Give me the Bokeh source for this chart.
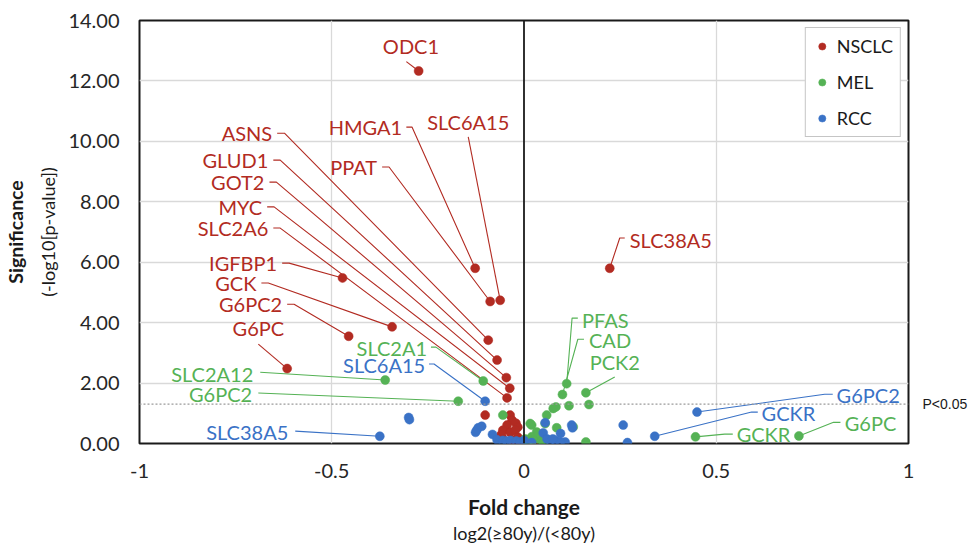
from bokeh.plotting import figure
from bokeh.models import (Range1d, LinearAxis, FixedTicker, NumeralTickFormatter,
                          CustomJSTickFormatter, Span, Legend, LegendItem, ColumnDataSource)
from bokeh.core.properties import value
from bokeh.embed import file_html
from bokeh.resources import INLINE

# ---------------- data ----------------
groups = ["NSCLC", "MEL", "RCC"]

nsclc_gene = ["ODC1", "HMGA1", "PPAT", "SLC6A15", "SLC38A5", "IGFBP1", "GCK", "G6PC2", "G6PC",
              "ASNS", "GLUD1", "GOT2", "MYC", "SLC2A6"] + [""] * 15
nsclc_fc = [-0.274, -0.127, -0.088, -0.062, 0.223, -0.472, -0.343, -0.456, -0.616,
            -0.093, -0.070, -0.046, -0.037, -0.044,
            -0.101, -0.036, -0.031, -0.044, -0.021, -0.016, -0.055, -0.036, -0.023,
            -0.016, -0.057, -0.031, 0.024, -0.010, -0.060]
nsclc_sig = [12.33, 5.80, 4.70, 4.74, 5.80, 5.48, 3.86, 3.55, 2.48,
             3.42, 2.76, 2.18, 1.83, 1.51,
             0.94, 0.94, 0.77, 0.61, 0.67, 0.54, 0.44, 0.37, 0.44,
             0.21, 0.21, 0.11, 0.02, 0.07, 0.28]

mel_gene = ["SLC2A12", "SLC2A1", "G6PC2", "PFAS", "CAD", "PCK2", "GCKR", "G6PC"] + [""] * 22
mel_fc = [-0.361, -0.106, -0.171, 0.111, 0.100, 0.161, 0.446, 0.715,
          0.117, 0.169, 0.076, 0.083, 0.059, 0.055, 0.085, 0.128, -0.055, 0.020, 0.016,
          0.033, 0.042, 0.029, 0.020, 0.161, 0.037, 0.024, 0.045, 0.010, 0.003, 0.050]
mel_sig = [2.10, 2.07, 1.40, 1.98, 1.62, 1.68, 0.22, 0.25,
           1.25, 1.29, 1.16, 1.21, 0.94, 0.66, 0.52, 0.55, 0.94, 0.61, 0.66,
           0.38, 0.22, 0.18, 0.22, 0.05, 0.27, 0.11, 0.08, 0.05, 0.15, 0.03]

rcc_gene = ["SLC6A15", "SLC38A5", "G6PC2", "GCKR"] + [""] * 28
rcc_fc = [-0.101, -0.375, 0.450, 0.340,
          -0.300, -0.298, -0.119, -0.123, -0.110, -0.126, -0.082, 0.258, 0.269, 0.055,
          0.050, 0.095, 0.124, 0.126, 0.107, -0.070, -0.055, -0.045, -0.035, -0.020,
          -0.010, 0.000, 0.068, 0.081, 0.094, 0.060, 0.075, 0.020]
rcc_sig = [1.40, 0.24, 1.04, 0.24,
           0.86, 0.79, 0.52, 0.44, 0.57, 0.37, 0.30, 0.61, 0.03, 0.69,
           0.35, 0.33, 0.61, 0.52, 0.05, 0.12, 0.10, 0.08, 0.10, 0.08,
           0.05, 0.10, 0.10, 0.10, 0.05, 0.15, 0.15, 0.03]

threshold = 1.3
x_ticks = [-1, -0.5, 0, 0.5, 1]
y_ticks = [0, 2, 4, 6, 8, 10, 12, 14]

# ---------------- annotation layout (label anchor, leader start, elbow) ----------------
label_layout = [
    ("NSCLC", "ODC1", -0.294, 13.16, "center", -0.306, 12.64, -0.306, 12.64),
    ("NSCLC", "HMGA1", -0.317, 10.47, "right", -0.306, 10.47, -0.291, 10.47),
    ("NSCLC", "SLC6A15", -0.145, 10.64, "center", -0.145, 10.15, -0.145, 10.15),
    ("NSCLC", "PPAT", -0.382, 9.15, "right", -0.369, 9.15, -0.351, 9.15),
    ("NSCLC", "ASNS", -0.655, 10.27, "right", -0.642, 10.27, -0.623, 10.27),
    ("NSCLC", "GLUD1", -0.665, 9.38, "right", -0.652, 9.38, -0.634, 9.38),
    ("NSCLC", "GOT2", -0.675, 8.65, "right", -0.662, 8.65, -0.644, 8.65),
    ("NSCLC", "MYC", -0.681, 7.83, "right", -0.668, 7.83, -0.650, 7.83),
    ("NSCLC", "SLC2A6", -0.665, 7.13, "right", -0.652, 7.13, -0.634, 7.13),
    ("NSCLC", "IGFBP1", -0.642, 5.97, "right", -0.629, 5.97, -0.611, 5.97),
    ("NSCLC", "GCK", -0.696, 5.31, "right", -0.683, 5.31, -0.665, 5.31),
    ("NSCLC", "G6PC2", -0.629, 4.61, "right", -0.616, 4.61, -0.598, 4.61),
    ("NSCLC", "G6PC", -0.691, 3.82, "center", -0.691, 3.29, -0.691, 3.29),
    ("NSCLC", "SLC38A5", 0.275, 6.73, "left", 0.262, 6.80, 0.249, 6.80),
    ("MEL", "SLC2A1", -0.252, 3.16, "right", -0.242, 3.19, -0.229, 3.19),
    ("MEL", "SLC2A12", -0.704, 2.30, "right", -0.686, 2.36, -0.686, 2.36),
    ("MEL", "G6PC2", -0.707, 1.63, "right", -0.691, 1.67, -0.691, 1.67),
    ("MEL", "PFAS", 0.151, 4.08, "left", 0.140, 4.15, 0.125, 4.15),
    ("MEL", "CAD", 0.169, 3.42, "left", 0.156, 3.45, 0.140, 3.45),
    ("MEL", "PCK2", 0.236, 2.69, "center", 0.236, 2.20, 0.236, 2.20),
    ("MEL", "GCKR", 0.553, 0.31, "left", 0.543, 0.31, 0.522, 0.31),
    ("MEL", "G6PC", 0.834, 0.67, "left", 0.823, 0.70, 0.805, 0.70),
    ("RCC", "SLC6A15", -0.257, 2.60, "right", -0.247, 2.63, -0.234, 2.63),
    ("RCC", "SLC38A5", -0.613, 0.37, "right", -0.595, 0.41, -0.595, 0.41),
    ("RCC", "G6PC2", 0.813, 1.60, "left", 0.803, 1.63, 0.782, 1.63),
    ("RCC", "GCKR", 0.618, 1.00, "left", 0.608, 1.04, 0.592, 1.04),
]

FONT = "Lato"
COLORS = {"NSCLC": "#B22B22", "MEL": "#55B255", "RCC": "#3A72C6"}
series = {
    "NSCLC": (nsclc_gene, nsclc_fc, nsclc_sig),
    "MEL": (mel_gene, mel_fc, mel_sig),
    "RCC": (rcc_gene, rcc_fc, rcc_sig),
}

p = figure(width=973, height=547, x_range=Range1d(-1, 1), y_range=Range1d(0, 14),
           output_backend="svg", toolbar_location=None,
           min_border_left=139, min_border_right=65, min_border_top=20, min_border_bottom=104)

p.outline_line_color = "#1a1a1a"
p.outline_line_width = 2
p.background_fill_color = "white"
p.border_fill_color = "white"

# grids
p.xgrid.ticker = FixedTicker(ticks=[-0.5, 0.5])
p.ygrid.ticker = FixedTicker(ticks=y_ticks[1:-1])
for g in (p.xgrid, p.ygrid):
    g.grid_line_color = "#d9d9d9"
    g.grid_line_width = 1.3

# axes
xa = p.xaxis[0]
xa.ticker = FixedTicker(ticks=x_ticks)
xa.formatter = CustomJSTickFormatter(code="return String(tick)")
ya = p.yaxis[0]
ya.ticker = FixedTicker(ticks=y_ticks)
ya.formatter = NumeralTickFormatter(format="0.00")
for ax in (xa, ya):
    ax.axis_line_color = None
    ax.major_tick_line_color = None
    ax.minor_tick_line_color = None
    ax.major_tick_out = 0
    ax.major_tick_in = 0
    ax.major_label_text_font = FONT
    ax.major_label_text_font_size = "20px"
    ax.major_label_text_color = "#262626"
    ax.axis_label_text_font = FONT
    ax.axis_label_text_color = "#1a1a1a"

ya.major_label_standoff = 20
ya.axis_label = "(-log10[p-value])"
ya.axis_label_text_font_style = "normal"
ya.axis_label_text_font_size = "18px"
ya.axis_label_standoff = 6

xa.major_label_standoff = 20
xa.axis_label = "Fold change"
xa.axis_label_text_font_style = "bold"
xa.axis_label_text_font_size = "21px"
xa.axis_label_standoff = 13


def title_axis(text, bold, standoff, size):
    ax = LinearAxis(ticker=FixedTicker(ticks=[]), axis_label=text)
    ax.axis_line_color = None
    ax.major_tick_line_color = None
    ax.minor_tick_line_color = None
    ax.major_tick_out = 0
    ax.major_tick_in = 0
    ax.major_label_standoff = 0
    ax.axis_label_standoff = standoff
    ax.axis_label_text_font = FONT
    ax.axis_label_text_font_size = size
    ax.axis_label_text_font_style = "bold" if bold else "normal"
    ax.axis_label_text_color = "#1a1a1a"
    return ax


p.add_layout(title_axis("Significance", True, 8, "19.5px"), "left")
p.add_layout(title_axis("log2(\u226580y)/(<80y)", False, 0, "18px"), "below")

# P<0.05 marker on the right
ra = LinearAxis(ticker=FixedTicker(ticks=[threshold]),
                formatter=CustomJSTickFormatter(code="return 'P<0.05'"))
ra.axis_line_color = None
ra.major_tick_line_color = None
ra.minor_tick_line_color = None
ra.major_tick_out = 0
ra.major_tick_in = 0
ra.major_label_standoff = 14
ra.major_label_text_font = "Liberation Sans"
ra.major_label_text_font_size = "14px"
ra.major_label_text_color = "#1a1a1a"
p.add_layout(ra, "right")

# reference lines
p.add_layout(Span(location=threshold, dimension="width", line_color="#9a9a9a",
                  line_dash="2 2", line_width=1.2))
p.add_layout(Span(location=0, dimension="height", line_color="#1a1a1a", line_width=1.8))

# leader lines
lookup = {}
for grp, (genes, fcs, sigs) in series.items():
    for gname, fx, sy in zip(genes, fcs, sigs):
        if gname:
            lookup[(grp, gname)] = (fx, sy)

for grp in groups:
    xs, ys = [], []
    for (g, gene, lx, ly, al, sx, sy, ex, ey) in label_layout:
        if g != grp:
            continue
        px, py = lookup[(g, gene)]
        xs.append([sx, ex, px])
        ys.append([sy, ey, py])
    p.multi_line(xs, ys, line_color=COLORS[grp], line_width=1.1)

# points
renderers = {}
for grp in groups:
    genes, fcs, sigs = series[grp]
    src = ColumnDataSource(dict(x=fcs, y=sigs, gene=genes))
    renderers[grp] = p.scatter("x", "y", source=src, size=9, fill_color=COLORS[grp],
                               line_color=COLORS[grp], line_width=0.5)

# labels
for grp in groups:
    for al in ("left", "right", "center"):
        rows = [r for r in label_layout if r[0] == grp and r[4] == al]
        if not rows:
            continue
        p.text([r[2] for r in rows], [r[3] for r in rows], text=[r[1] for r in rows],
               text_font=value(FONT), text_font_size="20px", text_color=COLORS[grp],
               text_align=al, text_baseline="middle")

legend = Legend(items=[LegendItem(label=g, renderers=[renderers[g]]) for g in groups],
                location="top_right")
legend.border_line_color = "#8c8c8c"
legend.border_line_width = 1.5
legend.label_text_font = FONT
legend.label_text_font_size = "18px"
legend.label_text_color = "#1a1a1a"
legend.glyph_width = 18
legend.glyph_height = 18
legend.spacing = 14
legend.padding = 7
legend.margin = 7
legend.label_standoff = 6
legend.background_fill_alpha = 1
p.add_layout(legend)

open("out.html", "w").write(file_html(p, INLINE))
